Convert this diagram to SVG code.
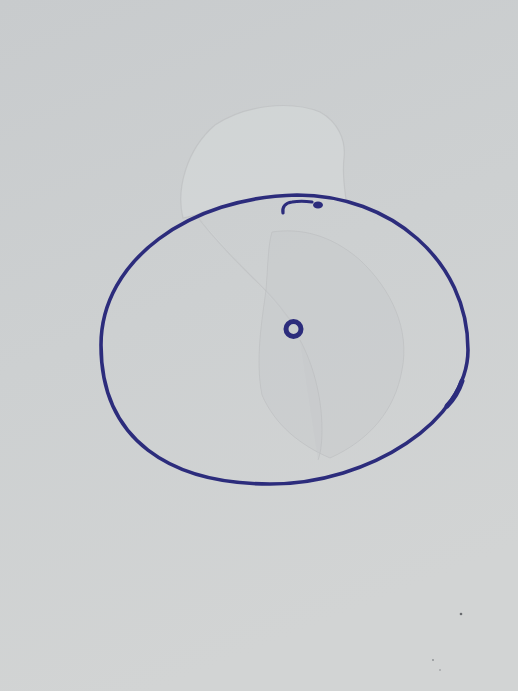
<svg xmlns="http://www.w3.org/2000/svg" width="518" height="691" viewBox="0 0 518 691">
<defs>
<linearGradient id="paper" x1="0" y1="0" x2="0.3" y2="1">
<stop offset="0" stop-color="#c8cbcd"/>
<stop offset="0.5" stop-color="#cdd0d1"/>
<stop offset="1" stop-color="#d2d4d4"/>
</linearGradient>
<style>
.ink{fill:none;stroke:#2c2c7c;stroke-linecap:round;stroke-linejoin:round}
.ghost{fill:#d8dbdc;fill-opacity:0.5;stroke:#b9bcbd;stroke-width:1.2;stroke-opacity:0.55}
.ghost2{fill:#c5c8ca;fill-opacity:0.4;stroke:#b9bcbe;stroke-width:1;stroke-opacity:0.55}
</style>
</defs>
<rect width="518" height="691" fill="url(#paper)"/>
<g id="erased">
<path class="ghost" d="M183,218 C176,190 186,150 215,125 C245,105 290,100 320,112 C338,122 346,140 344,158 C342,175 345,190 346,200 L300,196 C280,197 230,200 196,215 Z"/>
<path class="ghost" d="M196,215 C215,240 240,265 265,290 C280,305 288,318 292,322" fill="none"/>
<path class="ghost2" d="M272,232 C300,228 330,234 360,260 C392,290 410,330 402,370 C395,410 370,440 330,458 C300,445 275,425 262,395 C255,360 262,320 266,290 C268,265 268,245 272,232 Z"/>
<path class="ghost2" d="M300,340 C312,362 322,395 322,430 C322,445 320,455 318,460" fill="none"/>
</g>
<g id="outer-circle">
<path class="ink" stroke-width="3.6" d="M297,195 C190,197 101,260 101,345 C101,440 170,484 270,484 C370,484 468,420 468,350 C468,260 390,195 297,195 Z"/>
<path class="ink" stroke-width="5" d="M447,406 Q457,396 462,381"/>
</g>
<g id="top-mark">
<path class="ink" stroke-width="3.2" d="M283,213 C282,207 285,203 292,202 C298,201 305,201 312,202"/>
<ellipse cx="318" cy="205" rx="5" ry="3.5" fill="#2c2c7c"/>
</g>
<g id="center-point">
<circle cx="293.5" cy="329" r="7.5" fill="none" stroke="#2c2c7c" stroke-width="5"/>
</g>
<g id="specks">
<circle cx="461" cy="614" r="1.3" fill="#6a6c70"/>
<circle cx="433" cy="660" r="0.9" fill="#8a8c90"/>
<circle cx="440" cy="670" r="0.8" fill="#8a8c90"/>
</g>
</svg>
